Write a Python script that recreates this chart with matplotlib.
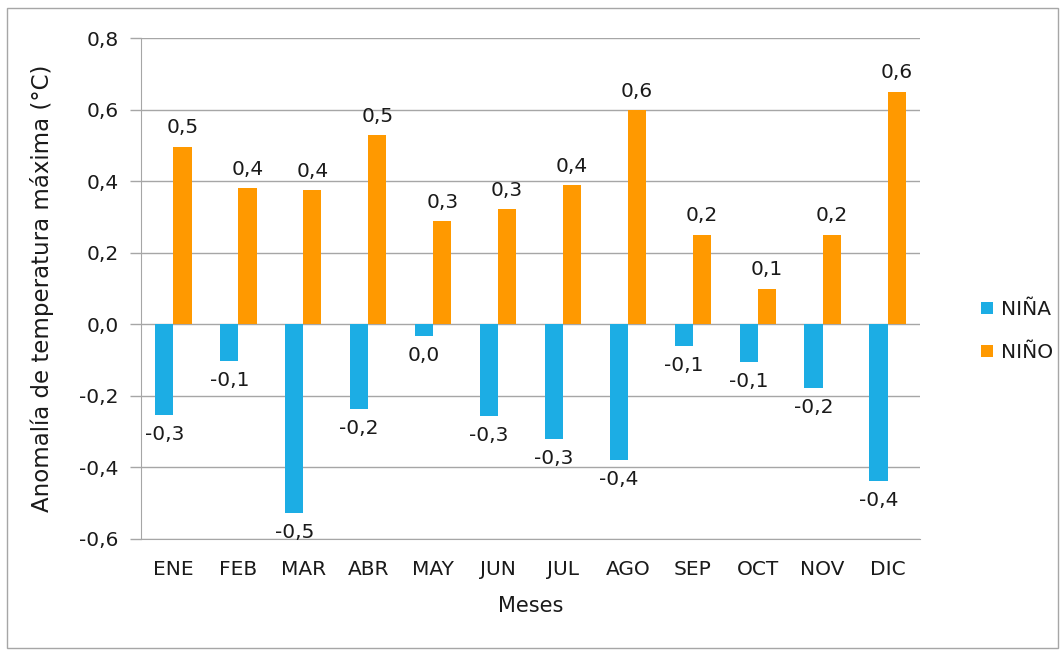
import matplotlib.pyplot as plt
import numpy as np
from matplotlib.patches import Rectangle

# Data
meses = ['ENE', 'FEB', 'MAR', 'ABR', 'MAY', 'JUN', 'JUL', 'AGO', 'SEP', 'OCT', 'NOV', 'DIC']
nina = [-0.253, -0.103, -0.528, -0.237, -0.034, -0.256, -0.321, -0.38, -0.061, -0.106, -0.179, -0.439]
nino = [0.495, 0.38, 0.374, 0.528, 0.288, 0.321, 0.388, 0.598, 0.249, 0.098, 0.249, 0.649]
nina_labels = ['-0,3', '-0,1', '-0,5', '-0,2', '0,0', '-0,3', '-0,3', '-0,4', '-0,1', '-0,1', '-0,2', '-0,4']
nino_labels = ['0,5', '0,4', '0,4', '0,5', '0,3', '0,3', '0,4', '0,6', '0,2', '0,1', '0,2', '0,6']

blue = '#1CADE4'
orange = '#FF9900'
txt = '#1a1a1a'

plt.rcParams['font.family'] = ['DejaVu Sans']

fig = plt.figure(figsize=(10.64, 6.5), dpi=100)
ax = fig.add_axes([141 / 1064, 1 - 539 / 650, (920 - 141) / 1064, (539 - 38) / 650])

x = np.arange(len(meses))
w = 0.28
ax.bar(x - w / 2, nina, w, color=blue, label='NIÑA', zorder=3)
ax.bar(x + w / 2, nino, w, color=orange, label='NIÑO', zorder=3)

for i in range(len(meses)):
    ax.annotate(nina_labels[i], (x[i] - w / 2, nina[i]), xytext=(0, -7), textcoords='offset points',
                ha='center', va='top', fontsize=14.5, color=txt)
    ax.annotate(nino_labels[i], (x[i] + w / 2, nino[i]), xytext=(0, 7), textcoords='offset points',
                ha='center', va='bottom', fontsize=14.5, color=txt)

ax.set_xlim(-0.5, len(meses) - 0.5)
ax.set_ylim(-0.6, 0.8)
yt = np.arange(-0.6, 0.81, 0.2)
ax.set_yticks(yt)
ax.set_yticklabels([f'{v:.1f}'.replace('.', ',').replace('-0,0', '0,0') for v in yt], fontsize=14.5, color=txt)
ax.set_xticks(x)
ax.set_xticklabels(meses, fontsize=14.5, color=txt)
ax.tick_params(axis='x', length=0, pad=15)
ax.tick_params(axis='y', length=8, color='#a6a6a6', width=1, pad=8)
ax.grid(axis='y', color='#a6a6a6', lw=1, zorder=0)
for s in ['top', 'right']:
    ax.spines[s].set_visible(False)
ax.spines['left'].set_color('#a6a6a6')
ax.spines['bottom'].set_color('#a6a6a6')
ax.set_ylabel('Anomalía de temperatura máxima (°C)', fontsize=16.5, color=txt, labelpad=18)
ax.set_xlabel('Meses', fontsize=15, color=txt, labelpad=12)

ax.legend(loc='center left', bbox_to_anchor=(1.055, 0.415), frameon=False, fontsize=14.5,
          handlelength=0.6, handleheight=0.6, handletextpad=0.4, labelspacing=1.2,
          labelcolor=txt)

fig.patches.append(Rectangle((7 / 1064, 1 - 648 / 650), (1058 - 7) / 1064, (648 - 8) / 650,
                             transform=fig.transFigure, fill=False, edgecolor='#a6a6a6', lw=1))

fig.savefig('out.png', dpi=100)
